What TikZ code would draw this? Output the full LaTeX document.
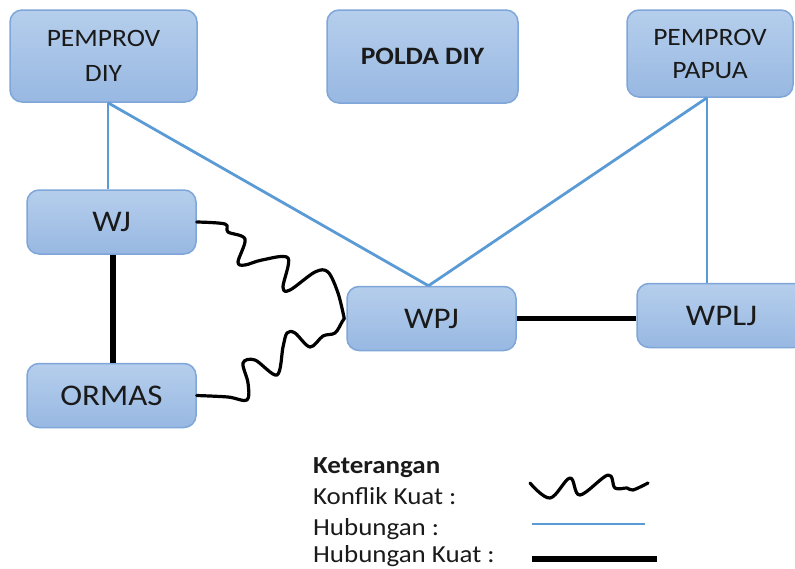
\documentclass[tikz,border=0pt]{standalone}
\usepackage{fontspec}
\setmainfont{Carlito}[FakeStretch=1.1]
\usetikzlibrary{positioning}

\definecolor{boxtop}{HTML}{B5CEEC}
\definecolor{boxbot}{HTML}{98B8E2}
\definecolor{boxline}{HTML}{7EA6D8}
\definecolor{relblue}{HTML}{5B9BD5}
\definecolor{txt}{HTML}{1A1A1A}

\begin{document}
\begin{tikzpicture}[
    %–––– GLOBAL STYLE TWEAKS ––––
    x=1pt, y=-1pt,                                   % pixel-like units
    actor/.style = {rectangle, rounded corners=12pt,
                    draw=boxline, line width=1.5pt,
                    top color=boxtop, bottom color=boxbot,
                    text=txt, align=center, inner sep=0pt},
    bigbox/.style = {actor, minimum width=169pt, minimum height=64pt,
                     font=\fontsize{30}{36}\selectfont},
    govbox/.style = {actor, font=\fontsize{25}{35}\selectfont},
    relation/.style = {draw=relblue, line width=2.8pt},
    strongrel/.style = {draw=black, line width=5.5pt},
    conflict/.style = {draw=black, line width=3.2pt, line cap=round, line join=round},
    legtext/.style = {anchor=base west, inner sep=0pt, text=txt,
                      font=\fontsize{24.5}{28}\selectfont},
]
\useasboundingbox (0,0) rectangle (795,568);
\clip (0,0) rectangle (795,568);

%–––– TOP ROW ––––
\node (pdiy)   [govbox, minimum width=187pt, minimum height=92pt] at (103.5,56)  {PEMPROV\\DIY};
\node (polda)  [govbox, minimum width=191pt, minimum height=93pt,
                font=\fontsize{25}{35}\selectfont\bfseries]       at (422.5,56.5) {POLDA DIY};
\node (ppapua) [govbox, minimum width=166pt, minimum height=87pt,
                font=\fontsize{25}{33}\selectfont]                at (710,53.5)   {PEMPROV\\PAPUA};

%–––– ACTORS ––––
\node (wj)     [bigbox] at (111.5,222) {WJ};
\node (ormas)  [bigbox, below=108pt of wj] {ORMAS};
\node (wpj)    [bigbox] at (431.5,318.5) {WPJ};
\node (wplj)   [bigbox] at (721.5,315.5) {WPLJ};

%–––– RELATIONS ––––
\coordinate (pdiyfoot)  at ([xshift=4.5pt]pdiy.south);
\coordinate (papuafoot) at ([xshift=-3pt]ppapua.south);
\coordinate (wpjtop)    at ([xshift=-3pt]wpj.north);
\coordinate (wpjin)     at ([xshift=-2pt]wpj.west);

\draw[relation] (pdiyfoot) -- (pdiyfoot |- wj.north);
\draw[relation] (pdiyfoot) -- (wpjtop);
\draw[relation] (papuafoot) -- (wpjtop);
\draw[relation] (papuafoot) -- (papuafoot |- wplj.north);

\draw[strongrel] ([xshift=1.5pt]wj.south) -- ([xshift=1.5pt]ormas.north);
\draw[strongrel] (wpj.east) -- (wpj.east -| wplj.west);

%–––– CONFLICTS ––––
\draw[conflict] plot[smooth, tension=0.55] coordinates {
  (wj.east) (225,224) (228,232) (245,239) (238,262) (245,265) (262,260)
  (288,258) (283,287) (290,290) (315,272) (328,272) (338,293) (wpjin)};
\draw[conflict] plot[smooth, tension=0.55] coordinates {
  (ormas.east) (228,397) (247,400) (248,383) (243,363) (255,360) (277,375)
  (283,347) (287,333) (295,333) (310,347) (323,336) (335,333) (342,322) (wpjin)};

%–––– LEGEND ––––
\node (keterangan) [legtext, font=\fontsize{24.5}{28}\selectfont\bfseries] at (313,473) {Keterangan};
\node (konflik)    [legtext] at (313,504) {Konflik Kuat :};
\node (hubungan)   [legtext] at (313,535) {Hubungan :};
\node (hubkuat)    [legtext] at (313,562) {Hubungan Kuat :};

\draw[conflict] plot[smooth, tension=0.6] coordinates {
  (530,483) (550,498) (570,478) (580,495) (608,475) (615,488) (627,488) (633,490) (648,483)};
\draw[relation]  (532,524) -- (645,524);
\draw[strongrel] (532,559) -- (657,559);
\end{tikzpicture}
\end{document}
